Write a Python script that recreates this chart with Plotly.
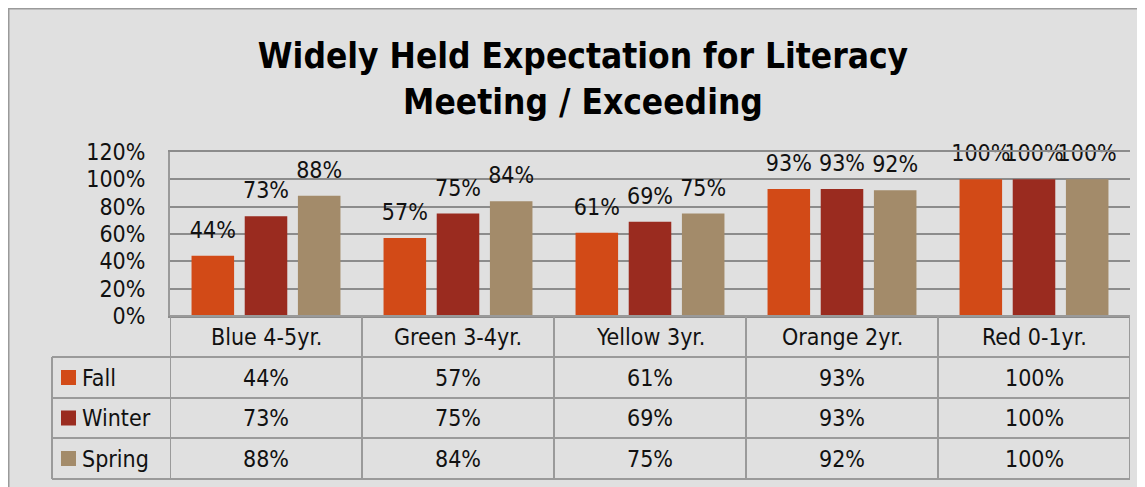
import plotly.graph_objects as go

categories = ["Blue 4-5yr.", "Green 3-4yr.", "Yellow 3yr.", "Orange 2yr.", "Red 0-1yr."]
series_names = ["Fall", "Winter", "Spring"]
fall = [44, 57, 61, 93, 100]
winter = [73, 75, 69, 93, 100]
spring = [88, 84, 75, 92, 100]
series_values = [fall, winter, spring]
colors = ["#d24a17", "#9a2b1f", "#a38b6a"]
y_ticks = [0, 20, 40, 60, 80, 100, 120]
y_tick_labels = ["0%", "20%", "40%", "60%", "80%", "100%", "120%"]

FONT = "DejaVu Sans Condensed"
GRID = "#8c8c8c"
TBL = "#9a9a9a"
TXT = "#111111"

OFF = 8  # page body margin
W, H = 1145 - OFF, 487 - OFF
# plot area in page pixels: x 170..1130, y 152..316
L, R, T, B = 170 - OFF, 1145 - 1130, 152 - OFF, 487 - 316
pw, ph = W - L - R, H - T - B

def px_x(p):
    return (p - OFF - L) / pw

def px_y(p):
    return (H - B - (p - OFF)) / ph

fig = go.Figure()
for name, vals, col in zip(series_names, series_values, colors):
    fig.add_trace(go.Bar(name=name, x=categories, y=vals, marker=dict(color=col, line=dict(width=0)),
                         offsetgroup=name, showlegend=False, hoverinfo="skip"))
for name, vals in zip(series_names, series_values):
    fig.add_trace(go.Scatter(x=categories, y=vals, mode="markers+text", offsetgroup=name,
                             text=[f"{v}%" for v in vals], textposition="top center",
                             marker=dict(size=18, opacity=0), cliponaxis=False,
                             textfont=dict(family=FONT, size=23, color=TXT),
                             showlegend=False, hoverinfo="skip"))

shapes = []
ann = []
# outer frame
shapes.append(dict(type="rect", xref="paper", yref="paper", x0=px_x(8.5), x1=px_x(1170),
                   y0=px_y(510), y1=px_y(8.5), line=dict(color="#9a9a9a", width=2), layer="below"))
# table rows
row_lines = [316, 357, 398, 438, 479]
for i, yl in enumerate(row_lines):
    x0 = px_x(170) if i == 0 else px_x(52)
    shapes.append(dict(type="line", xref="paper", yref="paper", x0=x0, x1=1,
                       y0=px_y(yl), y1=px_y(yl), line=dict(color=TBL, width=2)))
# vertical lines
for k in range(len(categories) + 1):
    shapes.append(dict(type="line", xref="x", yref="paper", x0=k - 0.5, x1=k - 0.5,
                       y0=px_y(479), y1=0, line=dict(color=TBL, width=2)))
shapes.append(dict(type="line", xref="paper", yref="paper", x0=px_x(52), x1=px_x(52),
                   y0=px_y(479), y1=px_y(357), line=dict(color=TBL, width=2)))

# header labels
for c in categories:
    ann.append(dict(x=c, xref="x", y=px_y(337), yref="paper", text=c, showarrow=False,
                    xanchor="center", yanchor="middle",
                    font=dict(family=FONT, size=23, color=TXT)))
row_centers = [377.5, 418, 458.5]
for name, vals, col, yc in zip(series_names, series_values, colors, row_centers):
    shapes.append(dict(type="rect", xref="paper", yref="paper", x0=px_x(61), x1=px_x(76),
                       y0=px_y(yc + 7.5), y1=px_y(yc - 7.5), fillcolor=col, line=dict(width=0)))
    ann.append(dict(x=px_x(80), xref="paper", y=px_y(yc), yref="paper", text=name, showarrow=False,
                    xanchor="left", yanchor="middle", font=dict(family=FONT, size=23, color=TXT)))
    for c, v in zip(categories, vals):
        ann.append(dict(x=c, xref="x", y=px_y(yc), yref="paper", text=f"{v}%", showarrow=False,
                        xanchor="center", yanchor="middle",
                        font=dict(family=FONT, size=23, color=TXT)))

fig.update_layout(
    width=W, height=H,
    margin=dict(l=L, r=R, t=T, b=B, autoexpand=False),
    paper_bgcolor="#e0e0e0", plot_bgcolor="#e0e0e0",
    barmode="group", bargap=0.169, bargroupgap=0.2,
    scattermode="group", scattergap=0.169,
    title=dict(text="Widely Held Expectation for Literacy<br>Meeting / Exceeding",
               x=(583 - OFF) / W, xanchor="center", y=1 - (68 - OFF) / H, yanchor="middle",
               font=dict(family=FONT, size=35, color="#000", weight="bold")),
    xaxis=dict(range=[-0.5, 4.5], showticklabels=False, ticks="", showgrid=False,
               showline=True, mirror=True, linecolor=GRID, linewidth=1.5, zeroline=False),
    yaxis=dict(range=[0, 120], tickvals=y_ticks, ticktext=y_tick_labels, showgrid=True,
               gridcolor=GRID, gridwidth=1.5, showline=True, linecolor=TBL, linewidth=2,
               zeroline=False, ticks="", ticklabelstandoff=18,
               tickfont=dict(family=FONT, size=23, color=TXT)),
    shapes=shapes, annotations=ann,
    font=dict(family=FONT),
)

fig.write_html("out.html")
